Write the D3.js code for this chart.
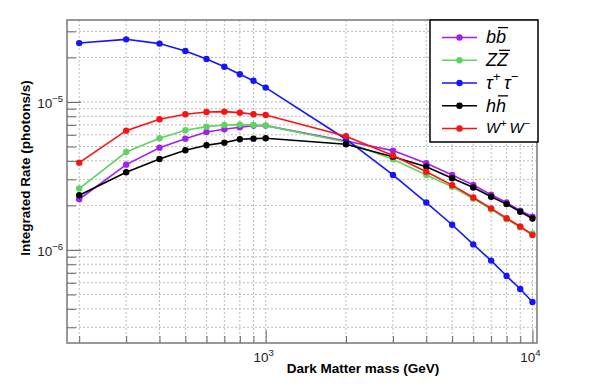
<!DOCTYPE html>
<html>
<head>
<meta charset="utf-8">
<script src="https://cdn.jsdelivr.net/npm/d3@7"></script>
<style>
  body { margin: 0; background: #fff; }
  svg { display: block; font-family: "Liberation Sans", Arial, sans-serif; }
</style>
</head>
<body>
<div id="chart"></div>
<script>
// dark matter mass points (GeV)
var masses = [200, 300, 400, 500, 600, 700, 800, 900, 1000, 2000, 3000, 4000, 5000, 6000, 7000, 8000, 9000, 10000];

// integrated rates (photons/s)
var rateBB = [2.20e-6, 3.77e-6, 4.91e-6, 5.65e-6, 6.27e-6, 6.54e-6, 6.74e-6, 6.92e-6, 6.92e-6, 5.45e-6, 4.69e-6, 3.85e-6, 3.21e-6, 2.75e-6, 2.36e-6, 2.09e-6, 1.84e-6, 1.68e-6];
var rateZZ = [2.60e-6, 4.59e-6, 5.69e-6, 6.44e-6, 6.81e-6, 6.99e-6, 7.03e-6, 6.99e-6, 6.92e-6, 5.37e-6, 4.10e-6, 3.21e-6, 2.67e-6, 2.22e-6, 1.88e-6, 1.61e-6, 1.42e-6, 1.29e-6];
var rateTauTau = [2.50e-5, 2.65e-5, 2.48e-5, 2.21e-5, 1.95e-5, 1.73e-5, 1.54e-5, 1.39e-5, 1.25e-5, 5.60e-6, 3.21e-6, 2.09e-6, 1.48e-6, 1.09e-6, 8.47e-7, 6.67e-7, 5.45e-7, 4.45e-7];
var rateHH = [2.34e-6, 3.35e-6, 4.12e-6, 4.72e-6, 5.10e-6, 5.31e-6, 5.60e-6, 5.65e-6, 5.69e-6, 5.18e-6, 4.27e-6, 3.65e-6, 3.05e-6, 2.64e-6, 2.29e-6, 2.04e-6, 1.81e-6, 1.63e-6];
var rateWW = [3.89e-6, 6.40e-6, 7.64e-6, 8.26e-6, 8.56e-6, 8.60e-6, 8.47e-6, 8.26e-6, 8.17e-6, 5.86e-6, 4.34e-6, 3.38e-6, 2.74e-6, 2.26e-6, 1.91e-6, 1.64e-6, 1.44e-6, 1.26e-6];

// legend labels: [text, superscript, overline] pieces
var labelBB = [["b", "", false], ["b", "", true]];
var labelZZ = [["Z", "", false], ["Z", "", true]];
var labelTauTau = [["\u03c4", "+", false], ["\u03c4", "\u2212", false]];
var labelHH = [["h", "", false], ["h", "", true]];
var labelWW = [["W", "+", false], ["W", "\u2212", false]];

var xTickLabels = [1000, 10000];
var yTickLabels = [1e-6, 1e-5];

var series = [
    {values: rateBB,     color: "#a020f0", label: labelBB,     size: 18},
    {values: rateZZ,     color: "#5fd35f", label: labelZZ,     size: 18},
    {values: rateTauTau, color: "#1414ff", label: labelTauTau, size: 18},
    {values: rateHH,     color: "#000000", label: labelHH,     size: 18},
    {values: rateWW,     color: "#ff0f0f", label: labelWW,     size: 15}
];

var W = 592, H = 392;
var frame = {left: 67, right: 537, top: 20, bottom: 343};

var svg = d3.select("#chart").append("svg")
    .attr("width", W)
    .attr("height", H);

svg.append("rect").attr("width", W).attr("height", H).attr("fill", "#fff");

var x = d3.scaleLog()
    .domain([180, 10400])
    .range([frame.left, frame.right]);
var y = d3.scaleLog()
    .domain([2.35e-7, 3.58e-5])
    .range([frame.bottom, frame.top]);

function isMajor(v) {
    var l = Math.log10(v);
    return Math.abs(l - Math.round(l)) < 1e-9;
}

// grid
var grid = svg.append("g")
    .attr("stroke", "#aaa")
    .attr("stroke-width", 0.8)
    .attr("stroke-dasharray", "2,2");
grid.selectAll(".gx").data(x.ticks()).enter().append("line")
    .attr("x1", function(d) { return x(d); })
    .attr("x2", function(d) { return x(d); })
    .attr("y1", frame.top)
    .attr("y2", frame.bottom);
grid.selectAll(".gy").data(y.ticks()).enter().append("line")
    .attr("x1", frame.left)
    .attr("x2", frame.right)
    .attr("y1", function(d) { return y(d); })
    .attr("y2", function(d) { return y(d); });

// axes (ticks inward)
var xAxis = svg.append("g")
    .attr("transform", "translate(0," + frame.bottom + ")")
    .call(d3.axisBottom(x).tickValues(x.ticks()).tickFormat("").tickSize(-7));
xAxis.selectAll(".tick line")
    .attr("y2", function(d) { return isMajor(d) ? -13 : -7; });

var yAxis = svg.append("g")
    .attr("transform", "translate(" + frame.left + ",0)")
    .call(d3.axisLeft(y).tickValues(y.ticks()).tickFormat("").tickSize(-9));
yAxis.selectAll(".tick line")
    .attr("x2", function(d) { return isMajor(d) ? 14 : 9; });

svg.selectAll(".domain").remove();
svg.selectAll(".tick line").attr("stroke", "#666");

// frame
svg.append("rect")
    .attr("x", frame.left)
    .attr("y", frame.top)
    .attr("width", frame.right - frame.left)
    .attr("height", frame.bottom - frame.top)
    .attr("fill", "none")
    .attr("stroke", "#777")
    .attr("stroke-width", 1.5);

// tick labels
svg.selectAll(".xlab").data(xTickLabels).enter().append("text")
    .attr("x", function(d) { return x(d) - 2; })
    .attr("y", 362)
    .attr("text-anchor", "middle")
    .attr("font-size", 13.5)
    .attr("fill", "#222")
    .each(function(d) {
        var t = d3.select(this);
        t.append("tspan").text("10");
        t.append("tspan").attr("dy", -6).attr("font-size", 9.5).text(Math.round(Math.log10(d)));
    });

svg.selectAll(".ylab").data(yTickLabels).enter().append("text")
    .attr("x", 63)
    .attr("y", function(d) { return y(d) + 6; })
    .attr("text-anchor", "end")
    .attr("font-size", 13.5)
    .attr("fill", "#222")
    .each(function(d) {
        var t = d3.select(this);
        t.append("tspan").text("10");
        t.append("tspan").attr("dy", -6).attr("font-size", 9.5).text("\u2212" + Math.abs(Math.round(Math.log10(d))));
    });

// axis titles
svg.append("text")
    .attr("x", 363)
    .attr("y", 373)
    .attr("text-anchor", "middle")
    .attr("font-size", 13.5)
    .attr("font-weight", "bold")
    .text("Dark Matter mass (GeV)");

svg.append("text")
    .attr("transform", "translate(30,168) rotate(-90)")
    .attr("text-anchor", "middle")
    .attr("font-size", 13.5)
    .attr("font-weight", "bold")
    .text("Integrated Rate (photons/s)");

// series
var line = d3.line()
    .x(function(d) { return x(d[0]); })
    .y(function(d) { return y(d[1]); });

series.forEach(function(s) {
    var pts = masses.map(function(m, i) { return [m, s.values[i]]; });
    var g = svg.append("g");
    g.append("path")
        .datum(pts)
        .attr("fill", "none")
        .attr("stroke", s.color)
        .attr("stroke-width", 1.6)
        .attr("d", line);
    g.selectAll("circle").data(pts).enter().append("circle")
        .attr("cx", function(d) { return x(d[0]); })
        .attr("cy", function(d) { return y(d[1]); })
        .attr("r", 3.2)
        .attr("fill", s.color);
});

// legend
var leg = svg.append("g");
leg.append("rect")
    .attr("x", 430).attr("y", 20)
    .attr("width", 108).attr("height", 122)
    .attr("fill", "#fff")
    .attr("stroke", "#000")
    .attr("stroke-width", 1.5);

var rowY = d3.scalePoint().domain(d3.range(series.length)).range([37.5, 128.5]);

series.forEach(function(s, i) {
    var yy = rowY(i);
    leg.append("line")
        .attr("x1", 442).attr("x2", 477)
        .attr("y1", yy).attr("y2", yy)
        .attr("stroke", s.color)
        .attr("stroke-width", 1.6);
    leg.append("circle")
        .attr("cx", 459.5).attr("cy", yy).attr("r", 3.2)
        .attr("fill", s.color);

    var t = leg.append("text")
        .attr("x", 486)
        .attr("y", yy + s.size * 0.33)
        .attr("font-size", s.size)
        .attr("font-style", "italic");
    var bars = [];
    var idx = 0;
    s.label.forEach(function(p) {
        t.append("tspan").attr("dy", 0).text(p[0]);
        if (p[2]) bars.push(idx);
        idx += p[0].length;
        if (p[1]) {
            t.append("tspan")
                .attr("font-size", s.size * 0.72)
                .attr("dy", -s.size * 0.42)
                .text(p[1]);
            t.append("tspan").attr("font-size", s.size).attr("dy", s.size * 0.42).text("\u2009");
            idx += p[1].length + 1;
        }
    });
    var node = t.node();
    bars.forEach(function(ci) {
        var a = node.getStartPositionOfChar(ci).x;
        var b = node.getEndPositionOfChar(ci).x;
        leg.append("line")
            .attr("x1", a + 2).attr("x2", b + 2)
            .attr("y1", yy - s.size * 0.55).attr("y2", yy - s.size * 0.55)
            .attr("stroke", "#000")
            .attr("stroke-width", 1.3);
    });
});
</script>
</body>
</html>
